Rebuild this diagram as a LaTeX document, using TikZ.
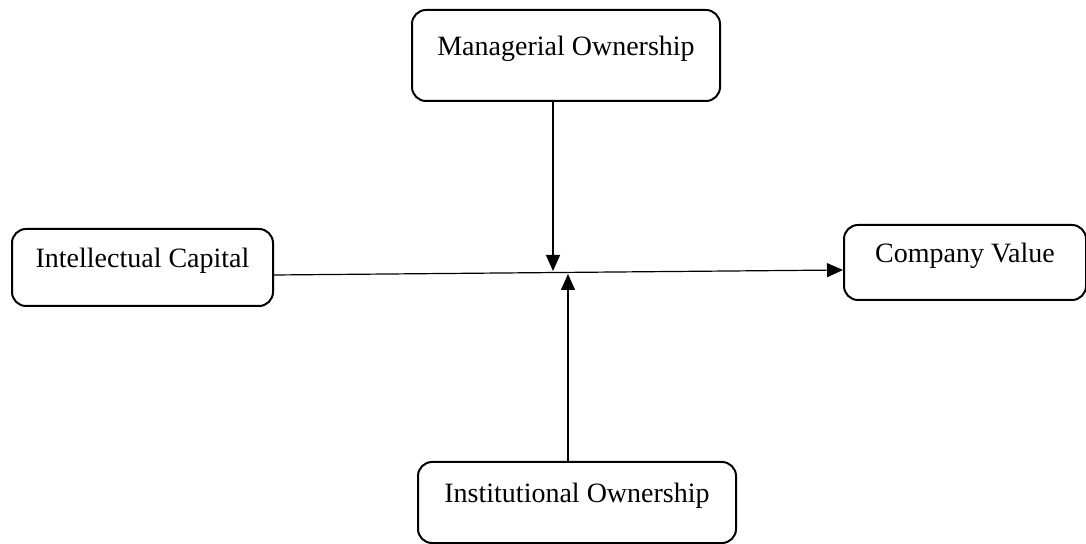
\documentclass[tikz,border=0pt]{standalone}
\usepackage{fontspec}
\setmainfont{Liberation Serif}
\usetikzlibrary{arrows.meta}
\begin{document}
\begin{tikzpicture}[x=0.5pt,y=-0.5pt,
		varbox/.style={draw, line width=1pt, rounded corners=7pt, inner sep=0pt,
				font=\fontsize{14}{16}\selectfont, text height=11pt, text depth=11pt},
		link/.style={line width=0.6pt, -{Triangle[length=8pt,width=7pt]}}]
		\useasboundingbox (0, 0) rectangle (1086, 544);

		\node[varbox, minimum width=154pt, minimum height=45.5pt] (mo) at (566, 55.5) {Managerial Ownership};
		\node[varbox, minimum width=130.5pt, minimum height=38.5pt] (ic) at (142.5, 267.5) {Intellectual Capital};
		\node[varbox, minimum width=121pt, minimum height=37.5pt] (cv) at (965, 262.5) {Company Value};
		\node[varbox, minimum width=159pt, minimum height=40.5pt] (io) at (577, 502.5) {Institutional Ownership};

		\coordinate (mtip) at (553, 271);
		\coordinate (itip) at (568, 274);

		\draw[link] ([yshift=-3.75pt]ic.east) -- ([yshift=-3.75pt]cv.west);
		\draw[link] (mo.south -| mtip) -- (mtip);
		\draw[link] (io.north -| itip) -- (itip);
	\end{tikzpicture}
\end{document}
